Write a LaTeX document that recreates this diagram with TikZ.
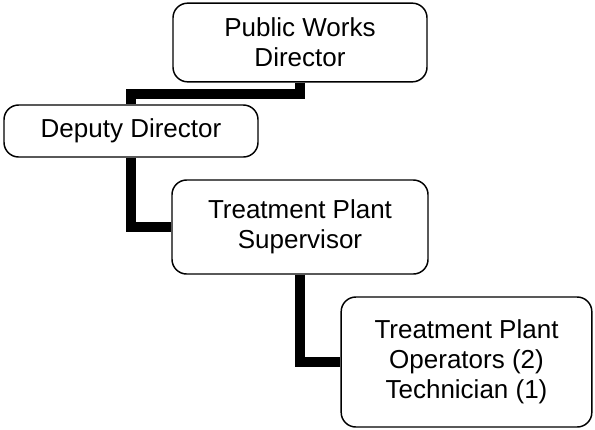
\documentclass[tikz,border=0pt]{standalone}
\usepackage{fontspec}
\setmainfont{Liberation Sans}
\usetikzlibrary{positioning}
\tikzset{
  post/.style={draw=black, line width=1.1pt, fill=white, rounded corners=11pt, align=center, inner sep=4pt,
    font=\fontsize{19.5}{22.5}\selectfont},
  link/.style={draw=black, line width=7.5pt, line join=miter}
}
\begin{document}
\begin{tikzpicture}[x=0.75pt, y=-0.75pt]
  \useasboundingbox (0,0) rectangle (595,429);
  \node[post, minimum width=190.5pt, minimum height=59pt] (director) at (300,42.5) {Public Works\\Director};
  \node[post, minimum width=190.5pt, minimum height=39pt] (deputy) at (131,131) {Deputy Director};
  \node[post, minimum width=192pt, minimum height=70.5pt] (super) at (300,227) {Treatment Plant\\Supervisor};
  \node[post, minimum width=188pt, minimum height=97.5pt] (ops) at (466.5,362) {Treatment Plant\\Operators (2)\\Technician (1)};

  \draw[link] (director.south) -- ++(0,11) -| (deputy.north);
  \draw[link] (deputy.south) |- (super.west);
  \draw[link] (super.south) |- (ops.west);
\end{tikzpicture}
\end{document}
